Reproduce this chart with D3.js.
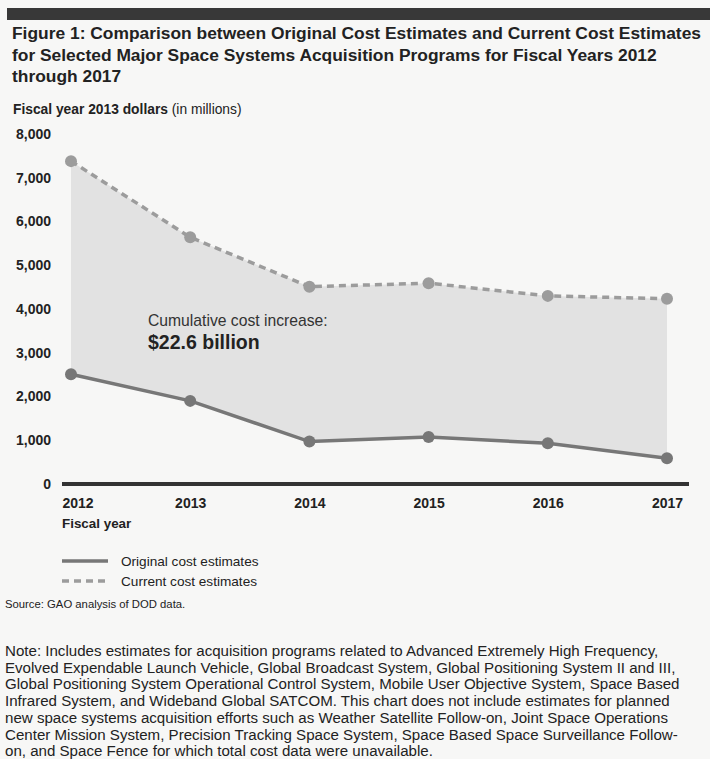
<!DOCTYPE html>
<html>
<head>
<meta charset="utf-8">
<script src="https://cdn.jsdelivr.net/npm/d3@7"></script>
<style>
  body { margin: 0; background: #f7f7f6; }
  svg { display: block; font-family: "Liberation Sans", Arial, sans-serif; }
</style>
</head>
<body>
<div id="chart_div"></div>
<script>
// data (millions of FY2013 dollars)
const years = [2012, 2013, 2014, 2015, 2016, 2017];
const originalCost = [2510, 1900, 970, 1075, 930, 590];
const currentCost = [7380, 5640, 4510, 4590, 4300, 4235];
const yTicks = [0, 1000, 2000, 3000, 4000, 5000, 6000, 7000, 8000];

const titleLines = [
  "Figure 1: Comparison between Original Cost Estimates and Current Cost Estimates",
  "for Selected Major Space Systems Acquisition Programs for Fiscal Years 2012",
  "through 2017"
];
const noteLines = [
  "Note: Includes estimates for acquisition programs related to Advanced Extremely High Frequency,",
  "Evolved Expendable Launch Vehicle, Global Broadcast System, Global Positioning System II and III,",
  "Global Positioning System Operational Control System, Mobile User Objective System, Space Based",
  "Infrared System, and Wideband Global SATCOM. This chart does not include estimates for planned",
  "new space systems acquisition efforts such as Weather Satellite Follow-on, Joint Space Operations",
  "Center Mission System, Precision Tracking Space System, Space Based Space Surveillance Follow-",
  "on, and Space Fence for which total cost data were unavailable."
];
const legendItems = [
  {label: "Original cost estimates", key: "original"},
  {label: "Current cost estimates", key: "current"}
];

const width = 710, height = 759;
const plot = {left: 71, right: 667, top: 134, bottom: 484};

const svg = d3.select("#chart_div")
  .append("svg")
  .attr("width", width)
  .attr("height", height)
  .attr("viewBox", `0 0 ${width} ${height}`);

svg.append("rect")
  .attr("width", width).attr("height", height)
  .attr("fill", "#f7f7f6");

// x / y conversion
const x = d3.scaleLinear()
  .domain([2012, 2017])
  .range([plot.left, plot.right]);

const y = d3.scaleLinear()
  .domain([0, 8000])
  .range([plot.bottom, plot.top]);

const rows = years.map((yr, i) => ({year: yr, original: originalCost[i], current: currentCost[i]}));

// header bar + title
svg.append("rect")
  .attr("x", 7).attr("y", 8)
  .attr("width", width - 7).attr("height", 12)
  .attr("fill", "#383838");

svg.append("g")
  .selectAll("text")
  .data(titleLines)
  .join("text")
    .attr("x", 12)
    .attr("y", (d, i) => 39 + i * 21.5)
    .attr("font-size", 17.4)
    .attr("font-weight", "bold")
    .attr("fill", "#222")
    .text(d => d);

// y axis title
const yTitle = svg.append("text")
  .attr("x", 13)
  .attr("y", 114)
  .attr("font-size", 13.8)
  .attr("fill", "#222");
yTitle.append("tspan").attr("font-weight", "bold").text("Fiscal year 2013 dollars");
yTitle.append("tspan").text(" (in millions)");

// filled band between the two series
svg.append("path")
  .datum(rows)
  .attr("fill", "#e2e2e2")
  .attr("d", d3.area()
    .x(d => x(d.year))
    .y0(d => y(d.original))
    .y1(d => y(d.current))
  );

// y axis labels
const yAxis = svg.append("g")
  .attr("transform", "translate(62,0)")
  .call(d3.axisLeft(y).tickValues(yTicks).tickFormat(d3.format(",")).tickSize(0).tickPadding(11));
yAxis.select(".domain").remove();
yAxis.selectAll("text")
  .attr("font-size", 14)
  .attr("font-weight", "bold")
  .attr("font-family", "Liberation Sans, Arial, sans-serif")
  .attr("fill", "#222");

// zero baseline
svg.append("line")
  .attr("x1", 62).attr("x2", 689)
  .attr("y1", y(0)).attr("y2", y(0))
  .attr("stroke", "#333")
  .attr("stroke-width", 4);

// x axis labels
const xAxis = svg.append("g")
  .attr("transform", `translate(0,${y(0) + 4})`)
  .call(d3.axisBottom(x).tickValues(years).tickFormat(d3.format("d")).tickSize(0).tickPadding(10));
xAxis.select(".domain").remove();
xAxis.selectAll("text")
  .attr("font-size", 14)
  .attr("font-weight", "bold")
  .attr("font-family", "Liberation Sans, Arial, sans-serif")
  .attr("fill", "#222");
xAxis.selectAll(".tick").filter(d => d === 2012).select("text")
  .attr("text-anchor", "start")
  .attr("x", 62 - x(2012));

svg.append("text")
  .attr("x", 62)
  .attr("y", 528)
  .attr("font-size", 13.4)
  .attr("font-weight", "bold")
  .attr("fill", "#222")
  .text("Fiscal year");

// lines + dots
const seriesStyle = {
  original: {stroke: "#777", dash: null, width: 3.5},
  current: {stroke: "#9c9c9c", dash: "7,5", width: 3.5}
};

["current", "original"].forEach(key => {
  const st = seriesStyle[key];
  svg.append("path")
    .datum(rows)
    .attr("fill", "none")
    .attr("stroke", st.stroke)
    .attr("stroke-width", st.width)
    .attr("stroke-dasharray", st.dash)
    .attr("d", d3.line()
      .x(d => x(d.year))
      .y(d => y(d[key]))
    );
  svg.append("g")
    .selectAll("circle")
    .data(rows)
    .join("circle")
      .attr("cx", d => x(d.year))
      .attr("cy", d => y(d[key]))
      .attr("r", 6)
      .attr("fill", st.stroke);
});

// annotation
svg.append("text")
  .attr("x", 148).attr("y", 326)
  .attr("font-size", 15.7)
  .attr("fill", "#333")
  .text("Cumulative cost increase:");
svg.append("text")
  .attr("x", 148).attr("y", 349)
  .attr("font-size", 19.5)
  .attr("font-weight", "bold")
  .attr("fill", "#222")
  .text("$22.6 billion");

// legend
const legend = svg.append("g")
  .selectAll("g")
  .data(legendItems)
  .join("g")
    .attr("transform", (d, i) => `translate(62,${561 + i * 20})`);
legend.append("line")
  .attr("x1", 0).attr("x2", 46)
  .attr("stroke", d => seriesStyle[d.key].stroke)
  .attr("stroke-width", 3.5)
  .attr("stroke-dasharray", d => seriesStyle[d.key].dash);
legend.append("text")
  .attr("x", 59).attr("y", 5)
  .attr("font-size", 13.6)
  .attr("fill", "#222")
  .text(d => d.label);

// source + note
svg.append("text")
  .attr("x", 5).attr("y", 608)
  .attr("font-size", 11.3)
  .attr("fill", "#222")
  .text("Source: GAO analysis of DOD data.");

svg.append("g")
  .selectAll("text")
  .data(noteLines)
  .join("text")
    .attr("x", 5)
    .attr("y", (d, i) => 656 + i * 16.7)
    .attr("font-size", 15.1)
    .attr("fill", "#222")
    .text(d => d);
</script>
</body>
</html>
